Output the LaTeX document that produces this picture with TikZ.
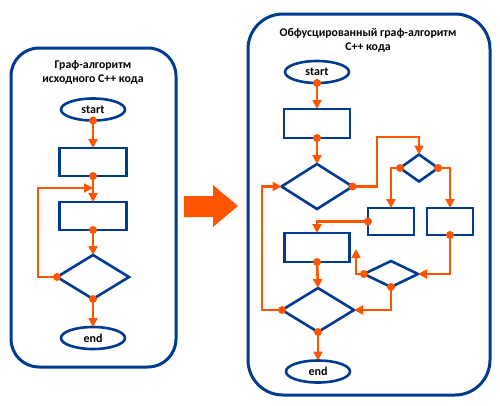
\documentclass[tikz,border=0pt]{standalone}
\usepackage{fontspec}
\setmainfont{Carlito}
\usetikzlibrary{shapes.geometric,arrows.meta}
\definecolor{fblue}{RGB}{0,59,145}
\definecolor{forange}{RGB}{255,85,0}
\tikzset{
  panel/.style={draw=fblue,line width=3pt},
  term/.style={ellipse,draw=fblue,line width=2.6pt,minimum width=64pt,minimum height=22pt,inner sep=0pt,outer sep=0pt,font=\bfseries\fontsize{12}{14}\selectfont},
  proc/.style={rectangle,draw=fblue,line width=2.6pt,inner sep=0pt,outer sep=0pt},
  dec/.style={diamond,draw=fblue,line width=2.6pt,inner sep=0pt,outer sep=0pt},
  conn/.style={draw=forange,line width=2.6pt,-{Triangle[length=9pt,width=9pt]}},
  title/.style={font=\bfseries\fontsize{11.8}{14}\selectfont,align=center,inner sep=0pt},
}
\newcommand{\fdot}[1]{\fill[forange] (#1) circle (4pt);}
\begin{document}
\begin{tikzpicture}[x=1pt,y=-1pt]
\useasboundingbox (0,0) rectangle (500,405);
% ---------- left panel ----------
\draw[panel,rounded corners=28pt] (11,48) rectangle (176,367);
\node[title] (t1) at (93,65) {Граф-алгоритм};
\node[title] (t2) at (93,80) {исходного С++ кода};
\node[term] (ls) at (93,109.5) {start};
\node[proc,minimum width=67pt,minimum height=28pt] (l1) at (93,162) {};
\node[proc,minimum width=67pt,minimum height=28pt] (l2) at (93,216) {};
\node[dec,minimum width=72pt,minimum height=44pt] (ld) at (93,277) {};
\node[term] (le) at (93,338) {end};
\coordinate (lj) at (93,188);
\coordinate (lc) at (38,188);
\draw[conn] (ls.south) -- (l1.north);
\draw[conn] (l1.south) -- (l2.north);
\draw[conn] (l2.south) -- (ld.north);
\draw[conn] (ld.south) -- (le.north);
\draw[conn] (ld.west) -| (lc) -- (lj);
\fdot{ls.south}\fdot{l1.south}\fdot{l2.south}\fdot{ld.south}\fdot{ld.west}
% ---------- big arrow ----------
\fill[forange] (184,196) -- (213,196) -- (213,185) -- (238,206) -- (213,227) -- (213,217) -- (184,217) -- cycle;
% ---------- right panel ----------
\draw[panel,rounded corners=35pt] (248,14) rectangle (490,395);
\node[title] (t3) at (368,33) {Обфусцированный граф-алгоритм};
\node[title] (t4) at (368,48) {С++ кода};
\node[term] (rs) at (317,72) {start};
\node[proc,minimum width=66pt,minimum height=29pt] (ra) at (317,123.5) {};
\node[dec,minimum width=71pt,minimum height=45pt] (d1) at (317,186.5) {};
\node[dec,minimum width=38pt,minimum height=27pt] (d2) at (419,168) {};
\node[proc,minimum width=46pt,minimum height=27pt] (rb) at (391,221.5) {};
\node[proc,minimum width=46pt,minimum height=27pt] (rc) at (450,221.5) {};
\node[proc,minimum width=65pt,minimum height=29pt] (re) at (317,247.5) {};
\node[dec,minimum width=54pt,minimum height=26pt] (d3) at (391,274) {};
\node[dec,minimum width=72pt,minimum height=44pt] (d4) at (318,310) {};
\node[term] (rend) at (318,371.5) {end};
\coordinate (c1) at (377,137);
\coordinate (c2) at (356,249);
\coordinate (c3) at (262,186.5);
\draw[conn] (rs.south) -- (ra.north);
\draw[conn] (ra.south) -- (d1.north);
\draw[conn] (d1.east) -| (c1) -| (d2.north);
\draw[conn] (d2.west) -| (rb.north);
\draw[conn] (d2.east) -| (rc.north);
\draw[conn] (rb.west) -| (re.north);
\draw[conn] (rc.south) |- (d3.east);
\draw[conn] (d3.west) -| (c2);
\draw[conn] (d3.south) |- (d4.east);
\draw[conn] (re.south) -- (d4.north);
\draw[conn] (d4.west) -| (c3) -- (d1.west);
\draw[conn] (d4.south) -- (rend.north);
\fdot{rs.south}\fdot{ra.south}\fdot{d1.east}\fdot{d2.west}\fdot{d2.east}
\fdot{rb.west}\fdot{rc.south}\fdot{d3.west}\fdot{d3.south}\fdot{re.south}
\fdot{d4.west}\fdot{d4.south}
\end{tikzpicture}
\end{document}
